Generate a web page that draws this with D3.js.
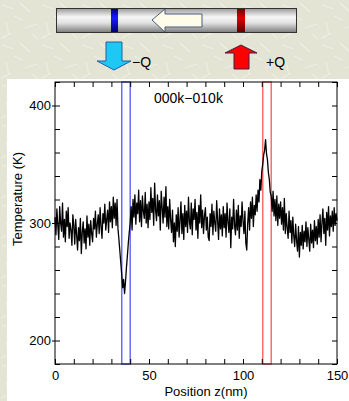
<!DOCTYPE html>
<html>
<head>
<meta charset="utf-8">
<script src="https://cdn.jsdelivr.net/npm/d3@7"></script>
<style>
  html, body { margin: 0; padding: 0; background: #e4e4d4; }
  svg { display: block; font-family: "Liberation Sans", Arial, sans-serif; }
</style>
</head>
<body>
<svg id="chart" width="349" height="401"></svg>
<script>
// temperature profile, sampled every 0.5 nm from 0 to 150 nm
const zStep = 0.5;
const temps = [
  305, 290, 312, 298, 286, 314, 300, 293, 317, 288, 303, 284, 310, 297, 313, 287, 300, 294, 281, 307,
  298, 282, 303, 290, 277, 296, 285, 304, 274, 292, 301, 283, 295, 278, 306, 288, 299, 281, 302, 291,
  284, 304, 295, 310, 288, 299, 307, 291, 313, 297, 287, 308, 300, 316, 294, 303, 311, 292, 318, 301,
  314, 296, 322, 304, 317, 298, 320, 295, 286, 276, 266, 256, 245, 252, 240, 250, 262, 272, 283, 292,
  300, 314, 294, 320, 305, 324, 299, 317, 308, 328, 301, 319, 297, 323, 310, 304, 326, 300, 316, 296,
  318, 303, 330, 309, 321, 298, 334, 311, 302, 324, 306, 319, 294, 327, 313, 300, 322, 305, 331, 297,
  314, 295, 320, 303, 292, 311, 284, 300, 280, 307, 293, 313, 288, 302, 318, 291, 308, 286, 315, 297,
  310, 292, 322, 301, 295, 317, 290, 312, 303, 320, 294, 309, 287, 315, 300, 324, 296, 311, 291, 306,
  313, 294, 305, 288, 285, 308, 297, 316, 290, 310, 300, 293, 319, 302, 286, 312, 295, 307, 289, 314,
  296, 308, 288, 317, 301, 292, 312, 279, 305, 295, 320, 298, 290, 311, 294, 315, 287, 306, 297, 318,
  302, 291, 310, 283, 277, 300, 313, 294, 318, 304, 322, 297, 315, 307, 324, 310, 328, 318, 337, 328,
  344, 350, 358, 362, 371, 359, 354, 343, 337, 326, 323, 310, 327, 306, 320, 302, 323, 298, 316, 304,
  318, 299, 313, 294, 321, 291, 308, 296, 287, 310, 292, 302, 283, 305, 289, 280, 299, 285, 276, 297,
  271, 292, 281, 298, 278, 293, 284, 301, 280, 296, 286, 276, 299, 283, 294, 279, 302, 285, 297, 282,
  303, 288, 307, 284, 300, 312, 291, 304, 281, 309, 294, 314, 289, 306, 297, 310, 293, 313, 298, 308,
  302
];

// heat sink / source slabs (nm)
const sinkSlab = [35.5, 40];
const sourceSlab = [110.5, 115];

const xTicksMajor = [0, 50, 100, 150];
const yTicksMajor = [200, 300, 400];
const runLabel = "000k\u2212010k";

const svg = d3.select("#chart");
const defs = svg.append("defs");

// paper texture
const pat = defs.append("pattern").attr("id", "paper")
  .attr("width", 40).attr("height", 40).attr("patternUnits", "userSpaceOnUse");
pat.append("rect").attr("width", 40).attr("height", 40).attr("fill", "#e4e4d4");
[[2, 5, 14, 9], [20, 3, 30, 12], [6, 22, 9, 34], [25, 28, 37, 24], [14, 16, 22, 20], [32, 34, 38, 39], [1, 38, 12, 33]]
  .forEach(s => pat.append("line")
    .attr("x1", s[0]).attr("y1", s[1]).attr("x2", s[2]).attr("y2", s[3])
    .attr("stroke", "#eeeee4").attr("stroke-width", 1.2));
svg.append("rect").attr("width", 349).attr("height", 401).attr("fill", "url(#paper)");

// gradients for the cylinder
function vGrad(id, stops) {
  const g = defs.append("linearGradient").attr("id", id)
    .attr("x1", 0).attr("y1", 0).attr("x2", 0).attr("y2", 1);
  stops.forEach(s => g.append("stop").attr("offset", s[0]).attr("stop-color", s[1]));
}
vGrad("cyl", [[0, "#9a9a9a"], [0.35, "#f6f6f6"], [0.6, "#e2e2e2"], [1, "#7a7a7a"]]);
vGrad("blueBand", [[0, "#000080"], [0.4, "#1a1aff"], [1, "#000070"]]);
vGrad("redBand", [[0, "#700000"], [0.4, "#e00000"], [1, "#600000"]]);

// top schematic
const schem = svg.append("g");
schem.append("rect").attr("x", 56.5).attr("y", 8.5).attr("width", 240).attr("height", 24)
  .attr("fill", "url(#cyl)").attr("stroke", "#333").attr("stroke-width", 1);
schem.append("rect").attr("x", 111).attr("y", 9).attr("width", 7).attr("height", 23).attr("fill", "url(#blueBand)");
schem.append("rect").attr("x", 237).attr("y", 9).attr("width", 8).attr("height", 23).attr("fill", "url(#redBand)");
schem.append("path")
  .attr("d", "M152,20 L165,9 L165,14 L202,14 L202,27 L165,27 L165,32 Z")
  .attr("fill", "#fffcea").attr("stroke", "#4a5a7a").attr("stroke-width", 1);

// -Q arrow (down, cyan) and +Q arrow (up, red)
schem.append("path")
  .attr("d", "M106,42 L122,42 L122,61 L131,61 L114,70 L97,61 L106,61 Z")
  .attr("fill", "#1fc8f4").attr("stroke", "#2060a0").attr("stroke-width", 1);
schem.append("path")
  .attr("d", "M241,45 L257,53 L249,53 L249,69 L234,69 L234,53 L225,53 Z")
  .attr("fill", "#ff0000").attr("stroke", "#402040").attr("stroke-width", 1);
schem.append("text").attr("x", 132).attr("y", 67).attr("font-size", 14).text("\u2212Q");
schem.append("text").attr("x", 266).attr("y", 67).attr("font-size", 14).text("+Q");

// white panel
svg.append("rect").attr("x", 7).attr("y", 79).attr("width", 342).attr("height", 322).attr("fill", "#fff");

// plot
const x = d3.scaleLinear().domain([0, 150]).range([55, 337]);
const y = d3.scaleLinear().domain([180, 420]).range([364, 82]);

const plot = svg.append("g");

// slabs
[[sinkSlab, "#6a6aff"], [sourceSlab, "#ff6a6a"]].forEach(([s, c]) => {
  plot.append("rect")
    .attr("x", x(s[0])).attr("y", y(420))
    .attr("width", x(s[1]) - x(s[0])).attr("height", y(180) - y(420))
    .attr("fill", "none").attr("stroke", c).attr("stroke-width", 1.5);
});

const line = d3.line()
  .x((d, i) => x(i * zStep))
  .y(d => y(d));

plot.append("path").datum(temps)
  .attr("d", line)
  .attr("fill", "none").attr("stroke", "#000").attr("stroke-width", 1.3)
  .attr("stroke-linejoin", "round");

// axes: inward ticks on all four sides
const xMinor = d3.range(0, 151, 10);
const yMinor = d3.range(180, 421, 20);

function styleAxis(g) {
  g.select(".domain").remove();
  g.selectAll("line").attr("stroke", "#000");
}

plot.append("g").attr("transform", `translate(0,${y(180)})`)
  .call(d3.axisBottom(x).tickValues(xMinor).tickSize(-5).tickFormat(""))
  .call(styleAxis);
plot.append("g").attr("transform", `translate(0,${y(420)})`)
  .call(d3.axisTop(x).tickValues(xMinor).tickSize(-5).tickFormat(""))
  .call(styleAxis);
plot.append("g").attr("transform", `translate(${x(0)},0)`)
  .call(d3.axisLeft(y).tickValues(yMinor).tickSize(-5).tickFormat(""))
  .call(styleAxis);
plot.append("g").attr("transform", `translate(${x(150)},0)`)
  .call(d3.axisRight(y).tickValues(yMinor).tickSize(-5).tickFormat(""))
  .call(styleAxis);

// labelled major ticks
plot.append("g").attr("transform", `translate(0,${y(180)})`)
  .call(d3.axisBottom(x).tickValues(xTicksMajor).tickSize(0).tickPadding(7).tickFormat(d3.format("d")))
  .call(g => g.select(".domain").remove())
  .call(g => g.selectAll("text").attr("font-size", 13).attr("fill", "#000")
    .attr("font-family", "Liberation Sans, Arial, sans-serif"));
plot.append("g").attr("transform", `translate(${x(0)},0)`)
  .call(d3.axisLeft(y).tickValues(yTicksMajor).tickSize(3).tickPadding(1).tickFormat(d3.format("d")))
  .call(g => g.select(".domain").remove())
  .call(g => g.selectAll("line").attr("stroke", "#000"))
  .call(g => g.selectAll("text").attr("font-size", 13).attr("fill", "#000")
    .attr("font-family", "Liberation Sans, Arial, sans-serif"));

// frame
plot.append("rect")
  .attr("x", x(0)).attr("y", y(420))
  .attr("width", x(150) - x(0)).attr("height", y(180) - y(420))
  .attr("fill", "none").attr("stroke", "#000").attr("stroke-width", 1);

// labels
plot.append("text").attr("x", 154).attr("y", 103).attr("font-size", 14).text(runLabel);
plot.append("text").attr("x", 206).attr("y", 396).attr("font-size", 13)
  .attr("text-anchor", "middle").text("Position z(nm)");
plot.append("text").attr("transform", "translate(22,199) rotate(-90)")
  .attr("font-size", 13).attr("text-anchor", "middle").text("Temperature (K)");
</script>
</body>
</html>
